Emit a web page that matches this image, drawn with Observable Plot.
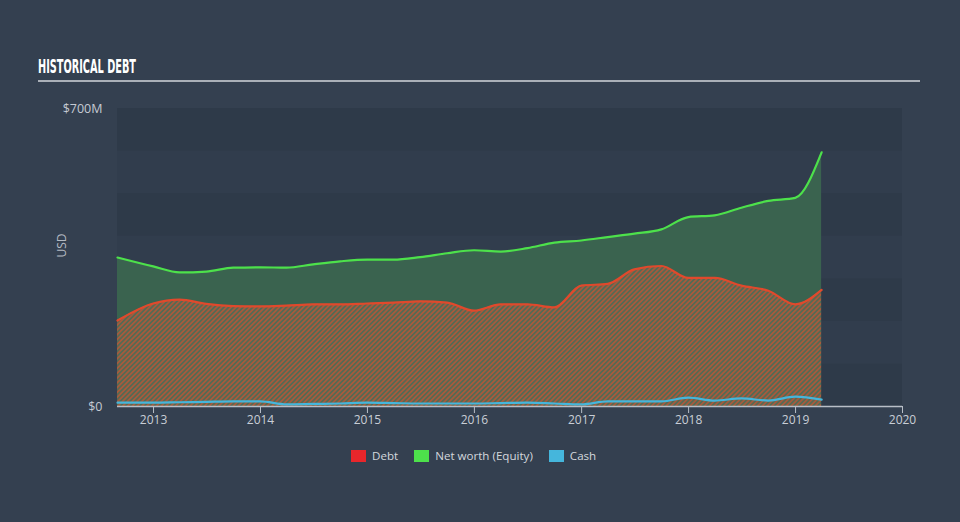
<!DOCTYPE html>
<html>
<head>
<meta charset="utf-8">
<script src="https://cdn.jsdelivr.net/npm/d3@7"></script>
<script src="https://cdn.jsdelivr.net/npm/@observablehq/plot@0.6"></script>
<style>
  html, body { margin: 0; padding: 0; background: #344050; width: 960px; height: 522px; overflow: hidden; }
  #wrap { position: relative; width: 960px; height: 522px; font-family: "Open Sans", sans-serif; }
  #title { position: absolute; left: 38px; top: 54px; color: #ffffff; font-family: "Liberation Sans Narrow", "DejaVu Sans Condensed", sans-serif; font-weight: bold; font-size: 20px; white-space: nowrap; transform-origin: 0 0; }
  #rule { position: absolute; left: 38px; top: 80px; width: 882px; height: 2px; background: #aab0b8; }
  #chart { position: absolute; left: 0; top: 90px; }
  #legend { position: absolute; left: 351px; top: 448px; display: flex; align-items: center; font-size: 11.6px; color: #d3d7dd; }
  #legend .item { display: flex; align-items: center; margin-right: 16px; }
  #legend .sw { width: 15px; height: 12px; margin-right: 6px; }
</style>
</head>
<body>
<div id="wrap">
  <div id="title">HISTORICAL DEBT</div>
  <div id="rule"></div>
  <div id="chart"></div>
  <div id="legend"></div>
</div>
<script>
// ---- data (values in $M) ----
const dates = ["2012-08-31","2012-12-31","2013-03-31","2013-06-30","2013-09-30","2013-12-31",
  "2014-03-31","2014-06-30","2014-09-30","2014-12-31","2015-03-31","2015-06-30","2015-09-30","2015-12-31",
  "2016-03-31","2016-06-30","2016-09-30","2016-12-31","2017-03-31","2017-06-30","2017-09-30","2017-12-31",
  "2018-03-31","2018-06-30","2018-09-30","2018-12-31","2019-03-31"];
const debt   = [202,242,251,241,236,235,237,240,240,242,244,247,244,225,240,240,233,284,288,322,330,302,302,284,272,240,274];
const equity = [350,329,315,317,326,327,326,334,341,345,345,351,360,367,364,372,385,390,398,406,416,445,449,467,483,490,597];
const cash   = [9,9,10,11,12,12,5,6,7,9,8,7,7,7,8,9,7,5,12,12,12,21,14,19,14,23,16];
const seriesNames = ["Debt","Net worth (Equity)","Cash"];
const seriesColors = ["#e8262b","#4de14b","#45b6dc"];
const yTicks = [0, 700];
const yTickLabels = ["$0", "$700M"];
const bandEdges = [0,100,200,300,400,500,600,700];

const rows = dates.map((d,i) => ({date: new Date(d), debt: debt[i], equity: equity[i], cash: cash[i]}));
const bands = bandEdges.slice(0,-1).map((lo,i) => ({lo, hi: bandEdges[i+1], k: i % 2}));

const chart = Plot.plot({
  width: 960,
  height: 345,
  marginTop: 18,
  marginBottom: 29,
  marginLeft: 117,
  marginRight: 58,
  style: {background: "transparent", color: "#c5cad3", fontFamily: "Open Sans, sans-serif", fontSize: "12px"},
  x: {type: "utc", domain: [new Date("2012-08-31"), new Date("2020-01-01")]},
  y: {domain: [0, 700]},
  marks: [
    Plot.rect(bands, {y1: "lo", y2: "hi", fill: d => d.k ? "#313d4d" : "#2e3a49"}),
    Plot.areaY(rows, {x: "date", y: "equity", fill: "#3a634f", curve: "monotone-x"}),
    Plot.areaY(rows, {x: "date", y: "debt", fill: "#ff00fe", curve: "monotone-x"}),
    Plot.lineY(rows, {x: "date", y: "equity", stroke: "#4de14b", strokeWidth: 2.2, curve: "monotone-x"}),
    Plot.lineY(rows, {x: "date", y: "debt", stroke: "#e0492c", strokeWidth: 2.2, curve: "monotone-x"}),
    Plot.lineY(rows, {x: "date", y: "cash", stroke: "#45b6dc", strokeWidth: 2.2, curve: "monotone-x"}),
    Plot.ruleY([0], {stroke: "#b8bec7", strokeWidth: 1.5}),
    Plot.axisX({ticks: d3.utcYear.every(1), tickFormat: d3.utcFormat("%Y"), tickSize: 7, tickPadding: 2, stroke: "#b8bec7", fill: "#c9ced6", fontSize: 12, label: null}),
    Plot.axisY({ticks: yTicks, tickFormat: (d) => yTickLabels[yTicks.indexOf(d)], tickSize: 0, tickPadding: 15, fill: "#c5cad3", fontSize: 12.5, label: null}),
    Plot.text(["USD"], {frameAnchor: "left", dx: -55, rotate: -90, fill: "#b4bac3", fontSize: 12})
  ]
});

// hatch pattern for debt area
const svg = d3.select(chart);
const defs = svg.insert("defs", ":first-child");
const pat = defs.append("pattern").attr("id", "hatch").attr("patternUnits", "userSpaceOnUse")
  .attr("width", 3.4).attr("height", 3.4).attr("patternTransform", "rotate(45)");
pat.append("rect").attr("width", 3.4).attr("height", 3.4).attr("fill", "#556a53");
pat.append("rect").attr("width", 1.7).attr("height", 3.4).attr("fill", "#a65a3d");
svg.selectAll('[fill="#ff00fe"]').attr("fill", "url(#hatch)");

document.getElementById("chart").appendChild(chart);

// legend
const lg = document.getElementById("legend");
seriesNames.forEach((n, i) => {
  const it = document.createElement("div"); it.className = "item";
  const sw = document.createElement("div"); sw.className = "sw"; sw.style.background = seriesColors[i];
  const tx = document.createElement("span"); tx.textContent = n;
  it.appendChild(sw); it.appendChild(tx); lg.appendChild(it);
});

// fit condensed title width
const t = document.getElementById("title");
const w = t.getBoundingClientRect().width;
t.style.transform = `scaleX(${98 / w})`;
</script>
</body>
</html>
